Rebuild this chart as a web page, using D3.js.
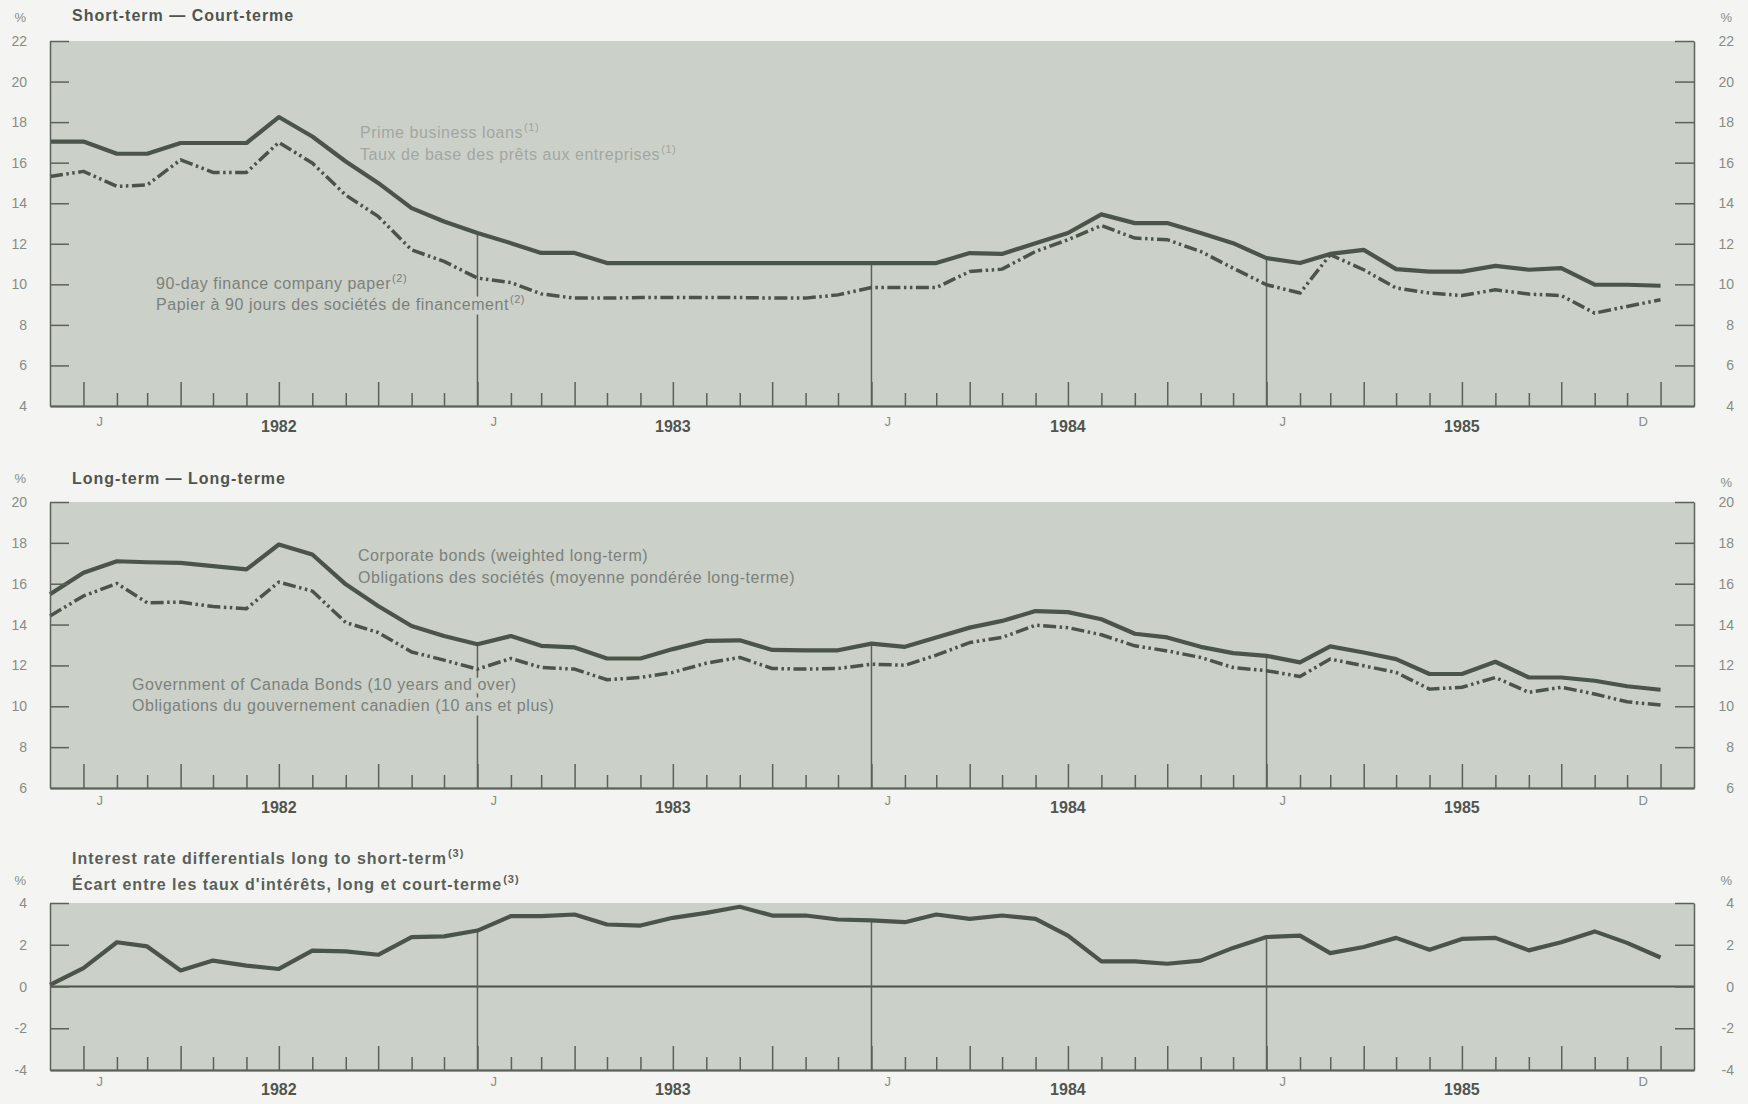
<!DOCTYPE html>
<html>
<head>
<meta charset="utf-8">
<script src="https://cdn.jsdelivr.net/npm/d3@7"></script>
<style>
body { margin: 0; background: #f4f5f2; }
svg text { font-family: "Liberation Sans", Arial, sans-serif; }
</style>
</head>
<body>
<script>
// month boundaries, Dec 1981 .. Jan 1986 (50 points)
var months = d3.timeMonths(new Date(1981, 11, 1), new Date(1986, 0, 2));

// short-term rates, %
var primeRate = [17.04, 17.04, 16.44, 16.44, 16.97, 16.97, 16.97, 18.25, 17.29, 16.06,
    15.0, 13.76, 13.1, 12.53, 12.03, 11.55, 11.55, 11.05, 11.05, 11.05,
    11.05, 11.05, 11.05, 11.05, 11.05, 11.05, 11.05, 11.05, 11.54, 11.5,
    12.03, 12.53, 13.45, 13.02, 13.02, 12.53, 12.03, 11.29, 11.05, 11.5,
    11.7, 10.75, 10.63, 10.63, 10.91, 10.72, 10.8, 9.98, 9.98, 9.93];
var financePaper = [15.32, 15.57, 14.83, 14.9, 16.14, 15.52, 15.52, 17.0, 15.98, 14.4,
    13.35, 11.7, 11.13, 10.31, 10.09, 9.53, 9.32, 9.32, 9.35, 9.35,
    9.35, 9.35, 9.32, 9.32, 9.48, 9.84, 9.84, 9.84, 10.63, 10.75,
    11.62, 12.2, 12.9, 12.28, 12.2, 11.62, 10.8, 9.98, 9.57, 11.46,
    10.72, 9.82, 9.57, 9.45, 9.73, 9.52, 9.45, 8.58, 8.91, 9.24];

// long-term rates, %
var corporateBonds = [15.48, 16.54, 17.1, 17.05, 17.02, 16.86, 16.7, 17.92, 17.43, 15.97,
    14.91, 13.93, 13.44, 13.04, 13.44, 12.96, 12.88, 12.34, 12.34, 12.8,
    13.2, 13.23, 12.76, 12.74, 12.74, 13.07, 12.91, 13.37, 13.85, 14.18,
    14.66, 14.61, 14.26, 13.55, 13.37, 12.91, 12.6, 12.47, 12.15, 12.93,
    12.63, 12.31, 11.58, 11.58, 12.18, 11.41, 11.41, 11.25, 10.98, 10.81];
var canadaBonds = [14.42, 15.4, 16.01, 15.07, 15.1, 14.88, 14.78, 16.08, 15.64, 14.1,
    13.61, 12.66, 12.26, 11.82, 12.34, 11.9, 11.82, 11.3, 11.41, 11.66,
    12.11, 12.39, 11.85, 11.82, 11.85, 12.06, 12.01, 12.5, 13.12, 13.37,
    13.97, 13.85, 13.5, 12.96, 12.71, 12.39, 11.9, 11.74, 11.46, 12.31,
    11.98, 11.66, 10.84, 10.93, 11.41, 10.68, 10.93, 10.6, 10.22, 10.06];

// long minus short differential, %
var spread = [0.08, 0.88, 2.12, 1.92, 0.77, 1.24, 1.0, 0.84, 1.72, 1.68,
    1.52, 2.37, 2.4, 2.68, 3.37, 3.37, 3.45, 2.97, 2.92, 3.29,
    3.53, 3.82, 3.4, 3.4, 3.21, 3.17, 3.08, 3.45, 3.24, 3.4,
    3.24, 2.44, 1.2, 1.2, 1.09, 1.24, 1.85, 2.37, 2.44, 1.6,
    1.89, 2.33, 1.76, 2.28, 2.33, 1.73, 2.12, 2.64, 2.09, 1.39];

var yearLabels = ["1982", "1983", "1984", "1985"];
var yearLabelDates = [new Date(1982, 6, 1), new Date(1983, 6, 1), new Date(1984, 6, 1), new Date(1985, 6, 1)];
var monthLabels = ["J", "J", "J", "J", "D"];
var monthLabelDates = [new Date(1982, 0, 16), new Date(1983, 0, 16), new Date(1984, 0, 16), new Date(1985, 0, 16), new Date(1985, 11, 16)];

var fill = "#cbd0c9",
    ink = "#4b5449",
    axisInk = "#5b6259",
    labelInk = "#878c86";

var svg = d3.select("body").append("svg")
    .attr("width", 1748)
    .attr("height", 1104);

var x = d3.scaleTime()
    .domain([new Date(1981, 11, 1), new Date(1986, 1, 1)])
    .range([50, 1694]);

var line = function (y) {
    return d3.line()
        .x(function (d, i) { return x(months[i]); })
        .y(function (d) { return y(d); });
};

var writeText = function (g, t, px, py, opts) {
    var el = g.append("text")
        .attr("x", px).attr("y", py)
        .attr("font-size", opts.size || 16)
        .attr("font-weight", opts.weight || "normal")
        .attr("letter-spacing", opts.spacing || 0)
        .attr("fill", opts.color || "#7c817b")
        .attr("text-anchor", opts.anchor || "start");
    el.append("tspan").text(t);
    if (opts.sup) {
        el.append("tspan").attr("font-size", 11).attr("dy", -7).attr("dx", 1).text(opts.sup);
    }
    return el;
};

var addText = function (g, t, px, py, opts) {
    if (opts.halo) {
        // knock-out copy behind the text
        writeText(g, t, px, py, opts)
            .attr("fill", fill).attr("stroke", fill)
            .attr("stroke-width", 9).attr("stroke-linejoin", "round");
    }
    return writeText(g, t, px, py, opts);
};

var panel = function (p) {
    var y = d3.scaleLinear().domain(p.domain).range([p.bottom, p.top]);
    var g = svg.append("g");
    var x0 = x.range()[0], x1 = x.range()[1];

    g.append("rect")
        .attr("x", x0).attr("y", p.top)
        .attr("width", x1 - x0).attr("height", p.bottom - p.top)
        .attr("fill", fill);

    if (p.zero) {
        g.append("line")
            .attr("x1", x0).attr("x2", x1)
            .attr("y1", y(0)).attr("y2", y(0))
            .attr("stroke", ink).attr("stroke-width", 2);
    }

    // january divider lines, from the upper series down to the axis
    var janIdx = d3.range(months.length).filter(function (i) {
        return months[i].getMonth() === 0 && i > 1 && i < months.length - 1;
    });
    g.selectAll("line.jan")
        .data(janIdx)
        .enter().append("line")
        .attr("class", "jan")
        .attr("x1", function (i) { return x(months[i]); })
        .attr("x2", function (i) { return x(months[i]); })
        .attr("y1", function (i) { return y(d3.max(p.series, function (s) { return s.values[i]; })); })
        .attr("y2", p.bottom)
        .attr("stroke", axisInk).attr("stroke-width", 1.5);

    p.notes.forEach(function (n) {
        addText(g, n.text, n.x, n.y, {sup: n.sup, color: n.color, halo: true, spacing: 0.55});
    });

    p.series.forEach(function (s) {
        g.append("path")
            .datum(s.values)
            .attr("d", line(y))
            .attr("fill", "none")
            .attr("stroke", ink)
            .attr("stroke-width", s.dash ? 3.5 : 4.2)
            .attr("stroke-linejoin", "round")
            .attr("stroke-dasharray", s.dash ? "13,3.5,2.5,3.5,2.5,3.5" : null);
    });

    // side axes
    var inner = p.ticks.filter(function (v) { return v !== p.domain[0]; });
    var left = g.append("g")
        .attr("transform", "translate(" + x0 + ",0)")
        .call(d3.axisRight(y).tickValues(inner).tickSize(19).tickSizeOuter(0).tickFormat(""));
    var right = g.append("g")
        .attr("transform", "translate(" + x1 + ",0)")
        .call(d3.axisLeft(y).tickValues(inner).tickSize(19).tickSizeOuter(0).tickFormat(""));

    // month ticks along the bottom, taller every quarter
    var quarter = months.filter(function (d, i) { return i > 0 && d.getMonth() % 3 === 0; });
    var minor = months.filter(function (d, i) { return i > 0 && d.getMonth() % 3 !== 0; });
    var bottomMinor = g.append("g")
        .attr("transform", "translate(0," + p.bottom + ")")
        .call(d3.axisTop(x).tickValues(minor).tickSize(13).tickSizeOuter(0).tickFormat(""));
    var bottomMajor = g.append("g")
        .attr("transform", "translate(0," + p.bottom + ")")
        .call(d3.axisTop(x).tickValues(quarter).tickSize(24).tickSizeOuter(0).tickFormat(""));

    [left, right, bottomMinor, bottomMajor].forEach(function (a) {
        a.selectAll("path, line").attr("stroke", axisInk).attr("stroke-width", 1.5);
    });
    bottomMinor.select("path").attr("stroke-width", 2);

    // value labels on both sides
    p.ticks.forEach(function (v) {
        addText(g, String(v), 27, y(v) + 5, {size: 14, color: labelInk, anchor: "end"});
        addText(g, String(v), 1734, y(v) + 5, {size: 14, color: labelInk, anchor: "end"});
    });
    addText(g, "%", 26, p.pctLeft, {size: 13, color: labelInk, anchor: "end"});
    addText(g, "%", 1732, p.pctRight, {size: 13, color: labelInk, anchor: "end"});

    monthLabels.forEach(function (t, i) {
        addText(g, t, x(monthLabelDates[i]), p.monthY, {size: 13, color: labelInk, anchor: "middle"});
    });
    yearLabels.forEach(function (t, i) {
        addText(g, t, x(yearLabelDates[i]), p.yearY, {size: 16, weight: "bold", color: "#50554f", anchor: "middle"});
    });

    p.titles.forEach(function (tt) {
        addText(g, tt.text, 72, tt.y, {size: 16, weight: "bold", spacing: 1, color: tt.color || "#4f544e", sup: tt.sup});
    });
};

panel({
    top: 41, bottom: 406, domain: [4, 22], ticks: d3.range(4, 23, 2),
    pctLeft: 22, pctRight: 22, monthY: 426, yearY: 432,
    titles: [{text: "Short-term \u2014 Court-terme", y: 21}],
    series: [{values: primeRate}, {values: financePaper, dash: true}],
    notes: [
        {text: "Prime business loans", sup: "(1)", x: 360, y: 138, color: "#a2a7a1"},
        {text: "Taux de base des prêts aux entreprises", sup: "(1)", x: 360, y: 160, color: "#a2a7a1"},
        {text: "90-day finance company paper", sup: "(2)", x: 156, y: 289},
        {text: "Papier à 90 jours des sociétés de financement", sup: "(2)", x: 156, y: 310}
    ]
});

panel({
    top: 502, bottom: 788, domain: [6, 20], ticks: d3.range(6, 21, 2),
    pctLeft: 483, pctRight: 487, monthY: 805, yearY: 813,
    titles: [{text: "Long-term \u2014 Long-terme", y: 484}],
    series: [{values: corporateBonds}, {values: canadaBonds, dash: true}],
    notes: [
        {text: "Corporate bonds (weighted long-term)", x: 358, y: 561},
        {text: "Obligations des sociétés (moyenne pondérée long-terme)", x: 358, y: 583},
        {text: "Government of Canada Bonds (10 years and over)", x: 132, y: 690},
        {text: "Obligations du gouvernement canadien (10 ans et plus)", x: 132, y: 711}
    ]
});

panel({
    top: 903, bottom: 1070, domain: [-4, 4], ticks: d3.range(-4, 5, 2), zero: true,
    pctLeft: 885, pctRight: 885, monthY: 1086, yearY: 1095,
    titles: [
        {text: "Interest rate differentials long to short-term", sup: "(3)", y: 864, color: "#5a5f59"},
        {text: "Écart entre les taux d'intérêts, long et court-terme", sup: "(3)", y: 890, color: "#5a5f59"}
    ],
    series: [{values: spread}],
    notes: []
});
</script>
</body>
</html>
